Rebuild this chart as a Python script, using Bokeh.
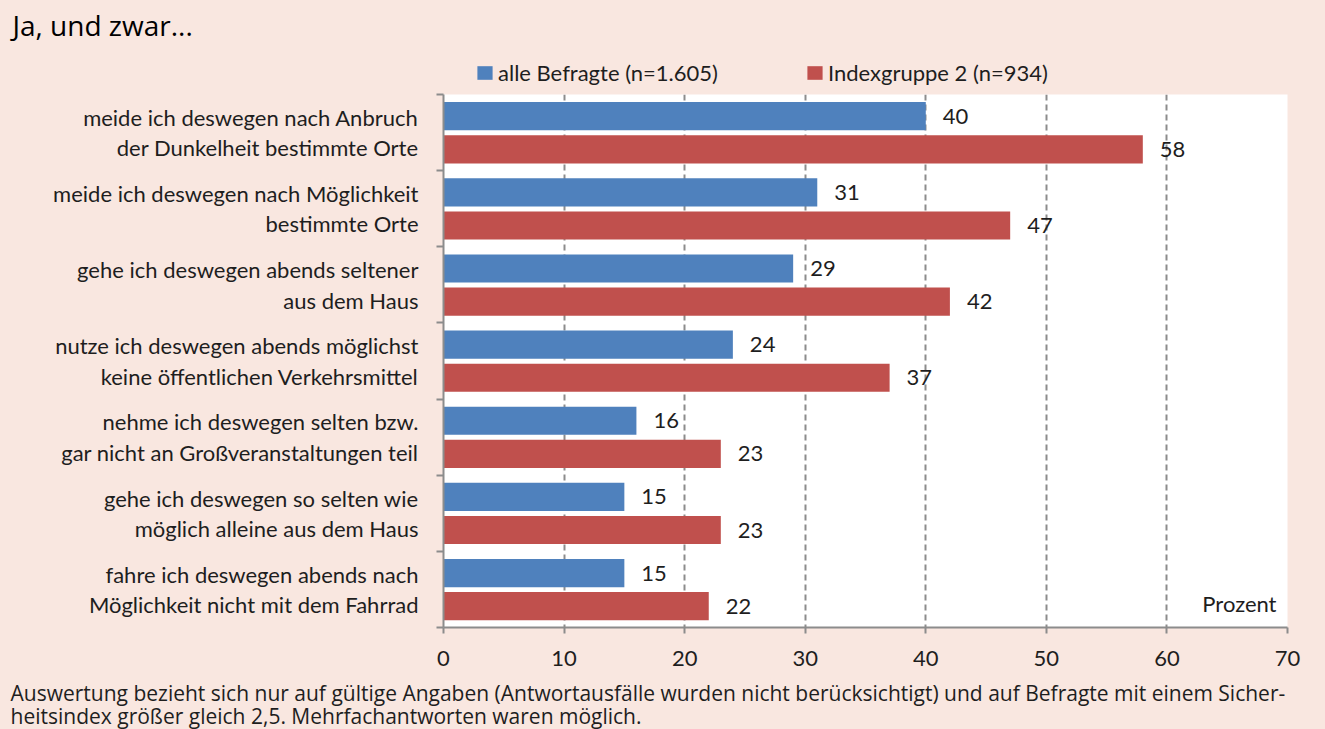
from bokeh.plotting import figure
from bokeh.layouts import column
from bokeh.models import (Range1d, FixedTicker, Legend, LegendItem, Label,
                          ColumnDataSource)
from bokeh.core.properties import value
from bokeh.embed import file_html
from bokeh.resources import INLINE

# ---------------- data ----------------
categories = [
    "meide ich deswegen nach Anbruch\nder Dunkelheit bestimmte Orte",
    "meide ich deswegen nach Möglichkeit\nbestimmte Orte",
    "gehe ich deswegen abends seltener\naus dem Haus",
    "nutze ich deswegen abends möglichst\nkeine öffentlichen Verkehrsmittel",
    "nehme ich deswegen selten bzw.\ngar nicht an Großveranstaltungen teil",
    "gehe ich deswegen so selten wie\nmöglich alleine aus dem Haus",
    "fahre ich deswegen abends nach\nMöglichkeit nicht mit dem Fahrrad",
]
alle_befragte = [40, 31, 29, 24, 16, 15, 15]
indexgruppe2 = [58, 47, 42, 37, 23, 23, 22]
series_names = ["alle Befragte (n=1.605)", "Indexgruppe 2 (n=934)"]
x_ticks = [0, 10, 20, 30, 40, 50, 60, 70]

title_text = "Ja, und zwar..."
unit_text = "Prozent"
footnote_lines = [
    "Auswertung bezieht sich nur auf gültige Angaben (Antwortausfälle wurden nicht berücksichtigt) und auf Befragte mit einem Sicher-",
    "heitsindex größer gleich 2,5. Mehrfachantworten waren möglich.",
]

# ---------------- styles ----------------
BG = "#F9E7E0"
BLUE = "#4F81BD"
RED = "#C0504D"
GRID = "#8C8C8C"
TXT = "#1E1E1E"
COND = "Lato"
NORM = "Open Sans"
W = 1325
H_TOP, H_MAIN, H_FOOT = 90, 585, 54

n = len(categories)
centers = [i + 0.5 for i in range(n)]
BLUE_OFF = -0.215
RED_OFF = 0.22
BAR_H = 0.37

src_blue = ColumnDataSource(dict(
    y=[c + BLUE_OFF for c in centers], v=alle_befragte,
    lbl=[str(v) for v in alle_befragte]))
src_red = ColumnDataSource(dict(
    y=[c + RED_OFF for c in centers], v=indexgruppe2,
    lbl=[str(v) for v in indexgruppe2]))


def bare_fig(h):
    f = figure(width=W, height=h, output_backend="svg", toolbar_location=None,
               x_range=Range1d(0, 1), y_range=Range1d(0, 1),
               x_axis_location=None, y_axis_location=None,
               min_border=0, min_border_left=0, min_border_right=0,
               min_border_top=0, min_border_bottom=0, frame_align=False)
    f.background_fill_color = BG
    f.border_fill_color = BG
    f.outline_line_color = None
    f.xgrid.visible = False
    f.ygrid.visible = False
    return f


# ---------------- header: title + legend ----------------
head = bare_fig(H_TOP)
head.add_layout(Label(x=12, y=66, x_units="screen", y_units="screen",
                      text=title_text, text_font=NORM, text_font_size="28px",
                      text_color="black", text_baseline="alphabetic"))
# swatch renderers for the legend (hidden, same series data)
lg_blue = head.hbar(y="y", right="v", left=0, height=BAR_H, source=src_blue,
                    fill_color=BLUE, line_color=None, visible=False)
lg_red = head.hbar(y="y", right="v", left=0, height=BAR_H, source=src_red,
                   fill_color=RED, line_color=None, visible=False)
legend = Legend(items=[LegendItem(label=series_names[0], renderers=[lg_blue], index=0),
                       LegendItem(label=series_names[1], renderers=[lg_red], index=0)],
                orientation="horizontal", location=(475, 4),
                glyph_width=19, glyph_height=17, label_standoff=4,
                spacing=87, padding=0, margin=0,
                border_line_color=None, background_fill_alpha=0,
                inactive_fill_alpha=0, click_policy="none",
                label_text_font=COND, label_text_font_size="22px",
                label_text_color=TXT)
head.add_layout(legend, "center")

# ---------------- main chart ----------------
p = figure(width=W, height=H_MAIN, output_backend="svg", toolbar_location=None,
           x_range=Range1d(0, 70), y_range=Range1d(n, 0),
           min_border_left=443, min_border_right=38,
           min_border_top=4, min_border_bottom=48, frame_align=False)
p.background_fill_color = "white"
p.border_fill_color = BG
p.outline_line_color = None

p.hbar(y="y", right="v", left=0, height=BAR_H, source=src_blue,
       fill_color=BLUE, line_color=None)
p.hbar(y="y", right="v", left=0, height=BAR_H, source=src_red,
       fill_color=RED, line_color=None)

for src in (src_blue, src_red):
    p.text(x="v", y="y", text="lbl", source=src, x_offset=17,
           text_baseline="middle", text_align="left",
           text_font=value(COND), text_font_size="22px", text_color=TXT)

# x axis
p.xaxis.ticker = FixedTicker(ticks=x_ticks)
p.xaxis.axis_line_color = GRID
p.xaxis.axis_line_width = 2
p.xaxis.major_tick_line_color = GRID
p.xaxis.major_tick_line_width = 2
p.xaxis.major_tick_out = 6
p.xaxis.major_tick_in = 0
p.xaxis.minor_tick_line_color = None
p.xaxis.major_label_standoff = 17
p.xaxis.major_label_text_font = COND
p.xaxis.major_label_text_font_size = "22px"
p.xaxis.major_label_text_color = TXT

# y axis: labels at group centres, ticks at group boundaries
p.yaxis.ticker = FixedTicker(ticks=centers, minor_ticks=list(range(n + 1)))
p.yaxis.major_label_overrides = {c: lab for c, lab in zip(centers, categories)}
p.yaxis.axis_line_color = GRID
p.yaxis.axis_line_width = 2
p.yaxis.major_tick_line_color = None
p.yaxis.major_tick_out = 0
p.yaxis.major_tick_in = 0
p.yaxis.minor_tick_line_color = GRID
p.yaxis.minor_tick_line_width = 2
p.yaxis.minor_tick_out = 7
p.yaxis.minor_tick_in = 0
p.yaxis.major_label_standoff = 18
p.yaxis.major_label_text_font = COND
p.yaxis.major_label_text_font_size = "22px"
p.yaxis.major_label_text_color = TXT
p.yaxis.major_label_text_line_height = 1.13

# grid
p.xgrid.ticker = FixedTicker(ticks=x_ticks)
p.xgrid.grid_line_color = GRID
p.xgrid.grid_line_dash = "6 4"
p.xgrid.grid_line_width = 2
p.ygrid.grid_line_color = None

p.add_layout(Label(x=833, y=24, x_units="screen", y_units="screen",
                   text=unit_text, text_font=COND, text_font_size="22px",
                   text_color=TXT, text_baseline="middle", text_align="right"))

# ---------------- footer: footnote ----------------
foot = bare_fig(H_FOOT)
for k, line in enumerate(footnote_lines):
    foot.add_layout(Label(x=10, y=37 - 23 * k, x_units="screen", y_units="screen",
                          text=line, text_font=NORM, text_font_size="21px",
                          text_color=TXT, text_baseline="alphabetic"))

layout = column(head, p, foot, spacing=0)
layout.styles = {"background-color": BG}
open("out.html", "w").write(file_html(layout, INLINE))
